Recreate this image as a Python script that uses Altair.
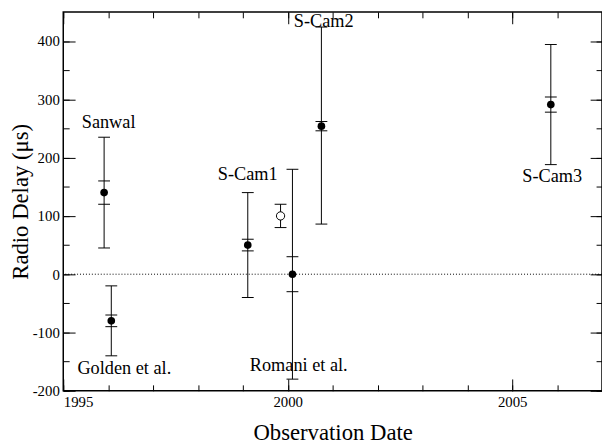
import altair as alt
import pandas as pd

# ---- data ----
dates = [1995.91, 1996.07, 1999.11, 1999.84, 2000.105, 2000.75, 2005.86]
delay = [140, -80, 50, 100, 0, 254, 291]
outer_lo = [45, -140, -40, 80, -180, 86, 188]
outer_hi = [235, -20, 140, 120, 180, 424, 394]
inner_lo = [120, -90, 40, None, -30, 246, 278]
inner_hi = [160, -70, 60, None, 30, 262, 304]
filled = [True, True, True, False, True, True, True]

label_text = ["Sanwal", "Golden et al.", "S-Cam1", "Romani et al.", "S-Cam2", "S-Cam3"]
label_x = [1996.01, 1996.36, 1999.11, 2000.245, 2000.80, 2005.89]
label_y = [250, -172, 161, -166, 424, 158]

x_major = [1995, 2000, 2005]
x_minor = [1995, 1996, 1997, 1998, 1999, 2000, 2001, 2002, 2003, 2004, 2005, 2006, 2007]
y_major = [-200, -100, 0, 100, 200, 300, 400]
y_minor = [-200, -150, -100, -50, 0, 50, 100, 150, 200, 250, 300, 350, 400]

df = pd.DataFrame({
    "date": dates, "delay": delay,
    "outer_lo": outer_lo, "outer_hi": outer_hi,
    "inner_lo": inner_lo, "inner_hi": inner_hi,
    "filled": filled,
})
labels = pd.DataFrame({"text": label_text, "x": label_x, "y": label_y})
zero = pd.DataFrame({"z": [0]})

FONT = "Liberation Serif, Times New Roman, Times, DejaVu Serif, serif"
xs = alt.Scale(domain=[1995, 2007], nice=False, zero=False)
ys = alt.Scale(domain=[-200, 450], nice=False, zero=False)


def tick_axis(orient, values, size):
    return alt.Axis(orient=orient, values=values, tickSize=size, offset=-size,
                    labels=False, domain=False, grid=False, title=None,
                    ticks=True, tickColor="black", tickWidth=1)


main_x = alt.Axis(orient="bottom", values=x_major, labelExpr="'' + datum.value",
                  ticks=False, tickSize=0,
                  domain=False, grid=False, labelFont=FONT, labelFontSize=15,
                  labelColor="black", labelPadding=4,
                  title="Observation Date", titleFont=FONT, titleFontSize=23,
                  titleFontWeight="normal", titleColor="black", titleX=273, titleY=49,
                  titleBaseline="alphabetic", titleAlign="center")
main_y = alt.Axis(orient="left", values=y_major, labelExpr="'' + datum.value",
                  ticks=False, tickSize=0,
                  domain=False, grid=False, labelFont=FONT, labelFontSize=15,
                  labelColor="black", labelPadding=4,
                  title="Radio Delay (μs)", titleFont=FONT, titleFontSize=23,
                  titleFontWeight="normal", titleColor="black", titleX=-36, titleY=192,
                  titleAngle=270, titleBaseline="alphabetic", titleAlign="center")

base = alt.Chart(df)

zero_line = alt.Chart(zero).mark_rule(color="black", strokeWidth=1, strokeDash=[1, 2]).encode(
    y=alt.YDatum(0, scale=ys, axis=None)
)

text = alt.Chart(labels).mark_text(font=FONT, fontSize=18.5, align="center",
                                   baseline="alphabetic", color="black").encode(
    x=alt.X("x:Q", scale=xs, axis=None),
    y=alt.Y("y:Q", scale=ys, axis=None),
    text="text:N",
)

outer_rule = base.mark_rule(color="black", strokeWidth=1).encode(
    x=alt.X("date:Q", scale=xs, axis=main_x),
    y=alt.Y("outer_lo:Q", scale=ys, axis=main_y),
    y2="outer_hi:Q",
)

cap_kw = dict(orient="horizontal", size=12, thickness=1, color="black", opacity=1)

outer_lo_cap = base.mark_tick(**cap_kw).encode(
    x=alt.X("date:Q", scale=xs, axis=tick_axis("bottom", x_major, 12)),
    y=alt.Y("outer_lo:Q", scale=ys, axis=tick_axis("left", y_major, 12)),
)
outer_hi_cap = base.mark_tick(**cap_kw).encode(
    x=alt.X("date:Q", scale=xs, axis=tick_axis("bottom", x_minor, 6)),
    y=alt.Y("outer_hi:Q", scale=ys, axis=tick_axis("left", y_minor, 6)),
)
inner_lo_cap = base.transform_filter("isValid(datum.inner_lo)").mark_tick(**cap_kw).encode(
    x=alt.X("date:Q", scale=xs, axis=tick_axis("top", x_major, 12)),
    y=alt.Y("inner_lo:Q", scale=ys, axis=tick_axis("right", y_major, 12)),
)
inner_hi_cap = base.transform_filter("isValid(datum.inner_hi)").mark_tick(**cap_kw).encode(
    x=alt.X("date:Q", scale=xs, axis=tick_axis("top", x_minor, 6)),
    y=alt.Y("inner_hi:Q", scale=ys, axis=tick_axis("right", y_minor, 6)),
)

solid_pts = base.transform_filter("datum.filled").mark_point(
    shape="circle", filled=True, size=60, color="black", opacity=1).encode(
    x=alt.X("date:Q", scale=xs, axis=None),
    y=alt.Y("delay:Q", scale=ys, axis=None),
)
open_pts = base.transform_filter("!datum.filled").mark_point(
    shape="circle", filled=False, fill="white", stroke="black", strokeWidth=1,
    size=70, opacity=1, fillOpacity=1).encode(
    x=alt.X("date:Q", scale=xs, axis=None),
    y=alt.Y("delay:Q", scale=ys, axis=None),
)

chart = alt.layer(
    zero_line, text, outer_rule, outer_lo_cap, outer_hi_cap,
    inner_lo_cap, inner_hi_cap, solid_pts, open_pts,
).resolve_axis(x="independent", y="independent").properties(
    width=546, height=384,
    autosize=alt.AutoSizeParams(type="none"),
    padding={"left": 56, "top": 1, "right": 0, "bottom": 52},
).configure_view(stroke="black", strokeWidth=1.5).configure_axis(grid=False)

chart.save("out.html", embed_options={"renderer": "svg", "actions": False})
